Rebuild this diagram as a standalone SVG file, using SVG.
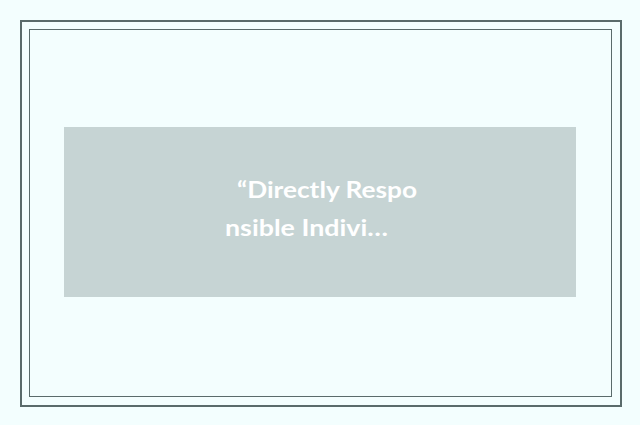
<svg xmlns="http://www.w3.org/2000/svg" width="640" height="425" viewBox="0 0 640 425">
  <style>
    .frame { fill: none; stroke: #5a6b6b; }
    .label { font-family: Lato, "Open Sans", "Liberation Sans", sans-serif; font-weight: bold; font-size: 22px; fill: #ffffff; }
  </style>
  <rect x="0" y="0" width="640" height="425" fill="#f3fefe"/>
  <g id="frame">
    <rect class="frame" x="21" y="21" width="600" height="385" stroke-width="2"/>
    <rect class="frame" x="29.5" y="29.5" width="582" height="367" stroke-width="1"/>
  </g>
  <g id="node-1">
    <rect x="64" y="127" width="512" height="170" fill="#c6d4d4"/>
    <text class="label" x="237" y="198" textLength="180" lengthAdjust="spacingAndGlyphs">“Directly Respo</text>
    <text class="label" x="225" y="236" textLength="163" lengthAdjust="spacingAndGlyphs">nsible Indivi…</text>
  </g>
  <g id="connectors"></g>
</svg>
